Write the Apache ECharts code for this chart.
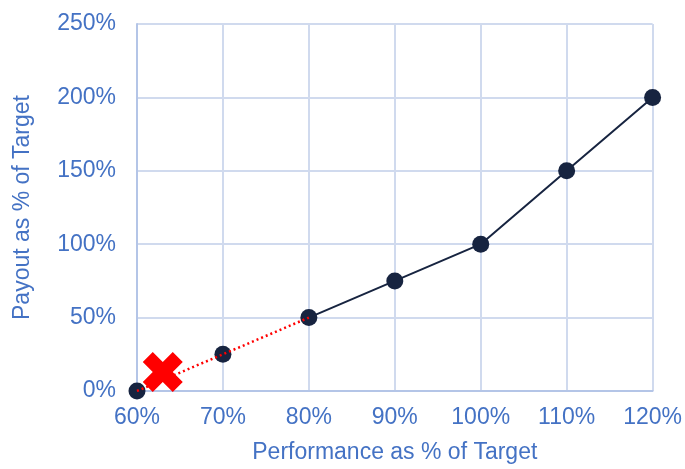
<!DOCTYPE html>
<html><head><meta charset="utf-8">
<script src="https://cdn.jsdelivr.net/npm/echarts@6/dist/echarts.min.js"></script>
<style>html,body{margin:0;padding:0;background:#fff;overflow:hidden}#c{width:685px;height:469px}</style>
</head><body><div id="c"></div>
<script>
const performance = [60, 70, 80, 90, 100, 110, 120];
const payout = [0, 25, 50, 75, 100, 150, 200];
const thresholdEnd = 80; // dotted segment runs up to here
const actualPerformance = [63];
const actualPayout = [13];
const xTitle = 'Performance as % of Target';
const yTitle = 'Payout as % of Target';

const allPts = performance.map((x, i) => [x, payout[i]]);
const solidPts = allPts.filter(p => p[0] >= thresholdEnd);
const dottedPts = allPts.filter(p => p[0] <= thresholdEnd);
const actualPts = actualPerformance.map((x, i) => [x, actualPayout[i]]);

const txt = '#4472C4';
const font = 'Liberation Sans, Arial, sans-serif';
const chart = echarts.init(document.getElementById('c'));
chart.setOption({
  animation: false,
  grid: {left: 137, top: 24, width: 518, height: 371},
  xAxis: {
    type: 'value', min: 60, max: 120, interval: 10,
    name: xTitle, nameLocation: 'middle', nameGap: 50,
    nameTextStyle: {color: txt, fontSize: 23, fontFamily: font},
    axisLabel: {formatter: '{value}%', color: txt, fontSize: 23, fontFamily: font, margin: 15},
    axisLine: {show: true, lineStyle: {color: '#B4C5E7', width: 2}},
    axisTick: {show: false},
    splitLine: {show: true, lineStyle: {color: '#D0DAEE', width: 2}}
  },
  yAxis: {
    type: 'value', min: 0, max: 250, interval: 50,
    name: yTitle, nameLocation: 'middle', nameGap: 103, nameRotate: 90,
    nameTextStyle: {color: txt, fontSize: 23, fontFamily: font},
    axisLabel: {formatter: '{value}%', color: txt, fontSize: 23, fontFamily: font, margin: 21},
    axisLine: {show: true, lineStyle: {color: '#B4C5E7', width: 2}},
    axisTick: {show: false},
    splitLine: {show: true, lineStyle: {color: '#D0DAEE', width: 2}}
  },
  series: [
    {type: 'line', data: solidPts, showSymbol: false, symbol: 'none',
     lineStyle: {color: '#172440', width: 2}, z: 2},
    {type: 'scatter', data: allPts, symbol: 'circle', symbolSize: 17,
     itemStyle: {color: '#172440', opacity: 1}, z: 3},
    {type: 'line', data: dottedPts, symbol: 'none',
     lineStyle: {color: '#FF0000', width: 2.5, type: [2, 3]}, z: 4},
    {type: 'scatter', data: actualPts, symbolSize: 40,
     symbol: 'path://M0,2.5L2.5,0L5,2.5L7.5,0L10,2.5L7.5,5L10,7.5L7.5,10L5,7.5L2.5,10L0,7.5L2.5,5Z',
     itemStyle: {color: '#FF0000', opacity: 1}, z: 5}
  ]
});
</script></body></html>
